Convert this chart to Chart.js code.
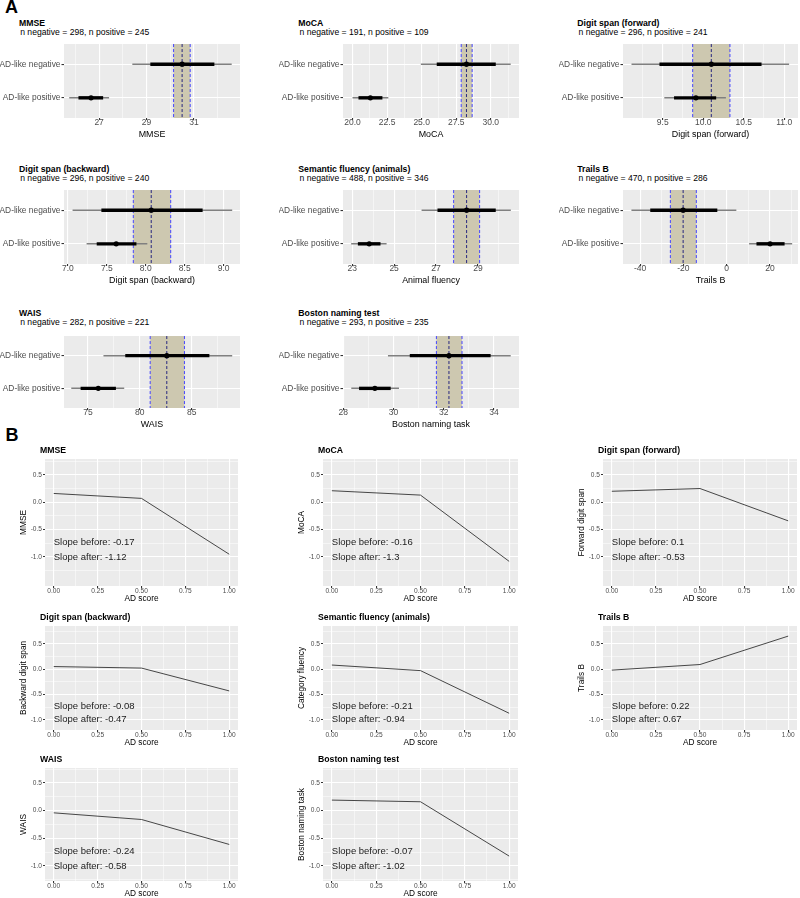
<!DOCTYPE html>
<html>
<head>
<meta charset="utf-8">
<title>Cognitive tests by AD-like status</title>
<script src="https://cdn.jsdelivr.net/npm/chart.js"></script>
<style>
  body { margin: 0; width: 800px; height: 898px; background: #fff; position: relative; overflow: hidden;
         font-family: "Liberation Sans", Arial, sans-serif; }
  canvas { position: absolute; }
  .lbl { position: absolute; white-space: nowrap; color: #000; }
  .big { font-weight: bold; font-size: 18px; line-height: 20px; }
  .ttl { font-weight: bold; font-size: 8.7px; line-height: 10px; }
  .sub { font-size: 8.6px; line-height: 10px; }
</style>
</head>
<body>
<script>
// ---- panel A: group estimates ----
const rowLabels = ['AD-like negative', 'AD-like positive'];
const testTitles = ['MMSE', 'MoCA', 'Digit span (forward)', 'Digit span (backward)',
  'Semantic fluency (animals)', 'Trails B', 'WAIS', 'Boston naming test'];
const nNegative = [298, 191, 296, 296, 488, 470, 282, 293];
const nPositive = [245, 109, 241, 240, 346, 286, 221, 235];
const xTitlesA = ['MMSE', 'MoCA', 'Digit span (forward)', 'Digit span (backward)',
  'Animal fluency', 'Trails B', 'WAIS', 'Boston naming task'];
// [negative, positive]
const pointEst = [[30.50, 26.66], [28.24, 21.29], [10.10, 9.91], [8.07, 7.62],
  [28.46, 23.81], [-20.1, 20.1], [82.6, 76.0], [32.21, 29.26]];
const innerLo = [[29.16, 26.13], [26.09, 20.43], [9.46, 9.64], [7.43, 7.37],
  [27.07, 23.27], [-35.3, 13.8], [78.6, 74.3], [30.65, 28.63]];
const innerHi = [[31.86, 27.17], [30.36, 22.16], [10.72, 10.16], [8.73, 7.88],
  [29.85, 24.35], [-4.3, 26.8], [86.7, 77.7], [33.87, 29.89]];
const outerLo = [[28.40, 25.74], [24.94, 20.00], [9.115, 9.52], [7.06, 7.24],
  [26.31, 22.95], [-44.0, 10.4], [76.5, 73.4], [29.78, 28.32]];
const outerHi = [[32.59, 27.42], [31.44, 22.59], [11.06, 10.28], [9.11, 8.02],
  [30.57, 24.64], [4.5, 30.3], [88.9, 78.5], [34.67, 30.22]];
// reference band (negative group mean and its interval)
const bandLo = [30.14, 27.86, 9.87, 7.84, 27.84, -26.0, 81.0, 31.71];
const bandMid = [30.50, 28.24, 10.10, 8.07, 28.46, -20.1, 82.6, 32.21];
const bandHi = [30.84, 28.65, 10.33, 8.32, 29.08, -14.0, 84.3, 32.73];
// axis ranges and tick labels
const xMinA = [25.52, 19.31, 9.01, 6.95, 22.56, -47.9, 72.7, 27.99];
const xMaxA = [32.94, 32.04, 11.17, 9.21, 30.96, 33.0, 89.65, 35.0];
const xTicksA = [[27, 29, 31], [20, 22.5, 25, 27.5, 30], [9.5, 10, 10.5, 11], [7, 7.5, 8, 8.5, 9],
  [23, 25, 27, 29], [-40, -20, 0, 20], [75, 80, 85], [28, 30, 32, 34]];
const xDecA = [0, 1, 1, 1, 0, 0, 0, 0];

// ---- panel B: fitted change vs AD score ----
const bTitles = ['MMSE', 'MoCA', 'Digit span (forward)', 'Digit span (backward)',
  'Semantic fluency (animals)', 'Trails B', 'WAIS', 'Boston naming test'];
const bYTitles = ['MMSE', 'MoCA', 'Forward digit span', 'Backward digit span',
  'Category fluency', 'Trails B', 'WAIS', 'Boston naming task'];
const adScore = [0, 0.5, 1];
const fitted = [[0.16, 0.07, -0.95], [0.21, 0.13, -1.08], [0.20, 0.25, -0.34], [0.05, 0.02, -0.43],
  [0.08, -0.03, -0.87], [-0.02, 0.09, 0.65], [-0.04, -0.16, -0.61], [0.19, 0.16, -0.82]];
const slopeBefore = ['-0.17', '-0.16', '0.1', '-0.08', '-0.21', '0.22', '-0.24', '-0.07'];
const slopeAfter = ['-1.12', '-1.3', '-0.53', '-0.47', '-0.94', '0.67', '-0.58', '-1.02'];
const xTicksB = [0, 0.25, 0.5, 0.75, 1];
const yTicksB = [-1, -0.5, 0, 0.5];
const yRangeB = [[-1.53, 0.79], [-1.2, 0.85], [-1.27, 0.77]];
const labelY = [-0.73, -1.0];

// ---- layout (plot panel rectangles) ----
const colA = [[64, 241], [343, 520], [623, 799]];
const rowA = [[42, 118], [188, 264], [334, 408]];
const titleXA = [19, 298.3, 577.3];
const titleYA = [23.3, 169, 313.3];
const colB = [[45, 238], [323, 518], [603, 797]];
const rowB = [[458, 586], [625, 730], [767, 881]];

Chart.defaults.font.family = '"Liberation Sans", Arial, sans-serif';

const panelBg = {
  id: 'panelBg',
  beforeDraw(chart) {
    const { ctx, chartArea: a } = chart;
    ctx.save();
    ctx.fillStyle = '#EBEBEB';
    ctx.fillRect(a.left, a.top, a.width, a.height);
    ctx.restore();
  }
};

const refBand = {
  id: 'refBand',
  beforeDatasetsDraw(chart, args, o) {
    const { ctx, chartArea: a, scales: { x } } = chart;
    const l = x.getPixelForValue(o.lo), m = x.getPixelForValue(o.mid), h = x.getPixelForValue(o.hi);
    ctx.save();
    ctx.fillStyle = '#CDC8B0';
    ctx.fillRect(l, a.top, h - l, a.height);
    ctx.setLineDash([3, 2]);
    ctx.lineWidth = 1;
    [[l, '#4646FF'], [m, '#26267F'], [h, '#4646FF']].forEach(([px, c]) => {
      ctx.strokeStyle = c;
      ctx.beginPath();
      ctx.moveTo(px, a.top);
      ctx.lineTo(px, a.bottom);
      ctx.stroke();
    });
    ctx.restore();
  }
};

const slopeText = {
  id: 'slopeText',
  afterDatasetsDraw(chart, args, o) {
    const { ctx, scales: { x, y } } = chart;
    ctx.save();
    ctx.font = '9.5px "Liberation Sans", Arial, sans-serif';
    ctx.fillStyle = '#1A1A1A';
    ctx.textAlign = 'left';
    ctx.textBaseline = 'middle';
    ctx.fillText('Slope before: ' + o.before, x.getPixelForValue(0), y.getPixelForValue(labelY[0]));
    ctx.fillText('Slope after: ' + o.after, x.getPixelForValue(0), y.getPixelForValue(labelY[1]));
    ctx.restore();
  }
};

function withMinor(majors, lo, hi) {
  const step = majors[1] - majors[0];
  const ext = [majors[0] - step, ...majors, majors[majors.length - 1] + step];
  const list = majors.map(v => ({ value: v }));
  for (let k = 0; k < ext.length - 1; k++) {
    const m = (ext[k] + ext[k + 1]) / 2;
    if (m >= lo && m <= hi) list.push({ value: m, minor: true });
  }
  return list.sort((a, b) => a.value - b.value);
}

const gridOpts = (tl) => ({
  color: '#FFFFFF',
  lineWidth: c => (c.tick && c.tick.minor ? 0.5 : 1.1),
  tickColor: c => (c.tick && c.tick.minor ? 'rgba(0,0,0,0)' : '#333333'),
  tickLength: tl
});

function makeCanvas(left, top, w, h) {
  const c = document.createElement('canvas');
  c.width = w; c.height = h;
  c.style.left = left + 'px'; c.style.top = top + 'px';
  c.style.width = w + 'px'; c.style.height = h + 'px';
  document.body.appendChild(c);
  return c;
}

function addText(text, cls, left, cy) {
  const d = document.createElement('div');
  d.className = 'lbl ' + cls;
  d.textContent = text;
  const lh = cls === 'big' ? 20 : 10;
  d.style.left = left + 'px';
  d.style.top = (cy - lh / 2) + 'px';
  document.body.appendChild(d);
}

addText('A', 'big', 5, 7);
addText('B', 'big', 5.5, 435);

// ---- panel A charts ----
testTitles.forEach((name, i) => {
  const [pl, pr] = colA[i % 3];
  const [pt, pb] = rowA[Math.floor(i / 3)];
  const yW = 64, xH = 24, padT = 4, padR = 3;
  const cv = makeCanvas(pl - yW, pt - padT, yW + (pr - pl) + padR, padT + (pb - pt) + xH);

  addText(name, 'ttl', titleXA[i % 3], titleYA[Math.floor(i / 3)]);
  addText(' n negative = ' + nNegative[i] + ', n positive = ' + nPositive[i], 'sub',
    titleXA[i % 3] + 1.2, titleYA[Math.floor(i / 3)] + 8.7);

  const datasets = [{
    data: rowLabels.map((_, r) => ({ x: pointEst[i][r], y: r })),
    pointRadius: 2.6, pointBackgroundColor: '#000', pointBorderColor: '#000', pointBorderWidth: 0,
    showLine: false
  }];
  rowLabels.forEach((_, r) => {
    datasets.push({
      data: [{ x: innerLo[i][r], y: r }, { x: innerHi[i][r], y: r }],
      showLine: true, borderColor: '#000', borderWidth: 3.4, pointRadius: 0, borderCapStyle: 'butt'
    });
  });
  rowLabels.forEach((_, r) => {
    datasets.push({
      data: [{ x: outerLo[i][r], y: r }, { x: outerHi[i][r], y: r }],
      showLine: true, borderColor: '#808080', borderWidth: 1.5, pointRadius: 0, borderCapStyle: 'butt'
    });
  });

  new Chart(cv, {
    type: 'scatter',
    data: { datasets },
    options: {
      responsive: false, animation: false, events: [],
      layout: { padding: { top: padT, right: padR, left: 0, bottom: 0 } },
      plugins: {
        legend: { display: false }, tooltip: { enabled: false },
        refBand: { lo: bandLo[i], mid: bandMid[i], hi: bandHi[i] }
      },
      scales: {
        x: {
          type: 'linear', min: xMinA[i], max: xMaxA[i],
          afterBuildTicks: s => { s.ticks = withMinor(xTicksA[i], xMinA[i], xMaxA[i]); },
          afterFit: s => { s.height = xH; },
          grid: gridOpts(2),
          border: { display: false },
          ticks: {
            color: '#4D4D4D', font: { size: 8.5 }, padding: -2, maxRotation: 0, autoSkip: false,
            callback: (v, k, t) => (t[k].minor ? '' : Number(v).toFixed(xDecA[i]))
          },
          title: { display: true, text: xTitlesA[i], color: '#000', font: { size: 8.9 }, padding: { top: 0, bottom: 2 } }
        },
        y: {
          type: 'linear', min: -0.6, max: 1.6, reverse: true,
          afterBuildTicks: s => { s.ticks = [{ value: 0 }, { value: 1 }]; },
          afterFit: s => { s.width = yW; },
          grid: gridOpts(2.5),
          border: { display: false },
          ticks: { color: '#4D4D4D', font: { size: 8.4 }, padding: 1, autoSkip: false,
            callback: v => rowLabels[v] }
        }
      }
    },
    plugins: [panelBg, refBand]
  });
});

// ---- panel B charts ----
bTitles.forEach((name, i) => {
  const [pl, pr] = colB[i % 3];
  const row = Math.floor(i / 3);
  const [pt, pb] = rowB[row];
  const [yLo, yHi] = yRangeB[row];
  const yW = 30, xH = 19, padT = 4, padR = 3;
  const cv = makeCanvas(pl - yW, pt - padT, yW + (pr - pl) + padR, padT + (pb - pt) + xH);

  addText(name, 'ttl', pl - 5, pt - 8);

  new Chart(cv, {
    type: 'scatter',
    data: {
      datasets: [{
        data: adScore.map((x, j) => ({ x, y: fitted[i][j] })),
        showLine: true, borderColor: '#333333', borderWidth: 0.9, pointRadius: 0
      }]
    },
    options: {
      responsive: false, animation: false, events: [],
      layout: { padding: { top: padT, right: padR, left: 0, bottom: 0 } },
      plugins: {
        legend: { display: false }, tooltip: { enabled: false },
        slopeText: { before: slopeBefore[i], after: slopeAfter[i] }
      },
      scales: {
        x: {
          type: 'linear', min: -0.05, max: 1.05,
          afterBuildTicks: s => { s.ticks = withMinor(xTicksB, -0.05, 1.05); },
          afterFit: s => { s.height = xH; },
          grid: gridOpts(2),
          border: { display: false },
          ticks: {
            color: '#4D4D4D', font: { size: 6.6 }, padding: -1, maxRotation: 0, autoSkip: false,
            callback: (v, k, t) => (t[k].minor ? '' : Number(v).toFixed(2))
          },
          title: { display: true, text: 'AD score', color: '#000', font: { size: 8.3 }, padding: { top: 0, bottom: 1 } }
        },
        y: {
          type: 'linear', min: yLo, max: yHi,
          afterBuildTicks: s => { s.ticks = withMinor(yTicksB, yLo, yHi); },
          afterFit: s => { s.width = yW; },
          grid: gridOpts(2),
          border: { display: false },
          ticks: {
            color: '#4D4D4D', font: { size: 6.6 }, padding: 1, autoSkip: false,
            callback: (v, k, t) => (t[k].minor ? '' : Number(v).toFixed(1))
          },
          title: { display: true, text: bYTitles[i], color: '#000', font: { size: 8.3 }, padding: { top: 3.3, bottom: 0 } }
        }
      }
    },
    plugins: [panelBg, slopeText]
  });
});
</script>
</body>
</html>
